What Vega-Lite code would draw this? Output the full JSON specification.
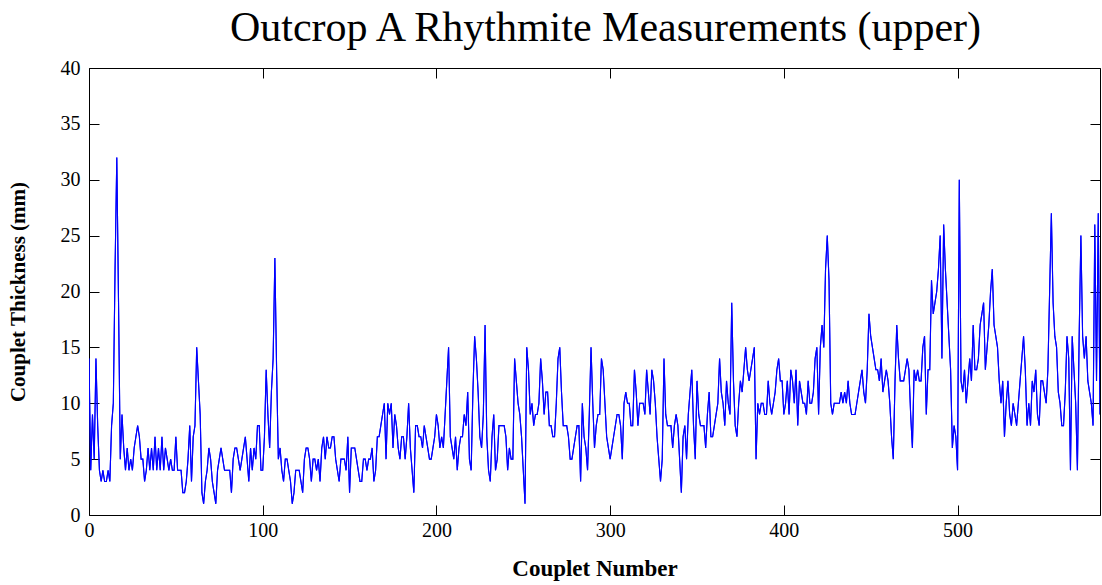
{
"$schema": "https://vega.github.io/schema/vega-lite/v6.json",
"width": 1011,
"height": 447,
"autosize": {"type": "none"},
"padding": {"left": 89, "top": 68, "right": 2, "bottom": 70},
"background": "white",
"config": {"view": {"stroke": "black", "strokeWidth": 1}, "font": "Liberation Serif"},
"title": {"text": "Outcrop A Rhythmite Measurements (upper)", "font": "Liberation Serif", "fontSize": 42, "fontWeight": "normal", "color": "black", "anchor": "middle", "offset": 8, "dx": 11},
"datasets": {"d": [
{"n":0,"t":14},{"n":1,"t":4},{"n":2,"t":9},{"n":3,"t":5},{"n":4,"t":14},{"n":5,"t":8},{"n":6,"t":4},{"n":7,"t":3},{"n":8,"t":4},{"n":9,"t":3},
{"n":10,"t":3},{"n":11,"t":4},{"n":12,"t":3},{"n":13,"t":8},{"n":14,"t":10},{"n":15,"t":22},{"n":16,"t":32},{"n":17,"t":19},
{"n":18,"t":5},{"n":19,"t":9},{"n":20,"t":6},{"n":21,"t":4},{"n":22,"t":6},{"n":23,"t":4},{"n":24,"t":5},{"n":25,"t":4},{"n":26,"t":6},{"n":27,"t":7},
{"n":28,"t":8},{"n":29,"t":7},{"n":30,"t":5},{"n":31,"t":5},{"n":32,"t":3},{"n":33,"t":4},{"n":34,"t":6},{"n":35,"t":4},{"n":36,"t":6},{"n":37,"t":4},
{"n":38,"t":7},{"n":39,"t":4},{"n":40,"t":6},{"n":41,"t":4},{"n":42,"t":7},{"n":43,"t":4},{"n":44,"t":6},{"n":45,"t":5},{"n":46,"t":4},{"n":47,"t":5},
{"n":48,"t":4},{"n":49,"t":4},
{"n":50,"t":7},{"n":51,"t":4},{"n":52,"t":4},{"n":53,"t":4},{"n":54,"t":2},{"n":55,"t":2},{"n":56,"t":3},{"n":57,"t":5},{"n":58,"t":8},{"n":59,"t":3},
{"n":60,"t":7},{"n":61,"t":8},{"n":62,"t":15},{"n":63,"t":12},{"n":64,"t":9},{"n":65,"t":2},{"n":66,"t":1},{"n":67,"t":3},{"n":68,"t":4},{"n":69,"t":6},
{"n":70,"t":5},{"n":71,"t":3},{"n":72,"t":2},{"n":73,"t":1},{"n":74,"t":4},{"n":75,"t":5},{"n":76,"t":6},{"n":77,"t":5},{"n":78,"t":4},{"n":79,"t":4},
{"n":80,"t":4},{"n":81,"t":4},{"n":82,"t":2},{"n":83,"t":5},{"n":84,"t":6},{"n":85,"t":6},{"n":86,"t":5},{"n":87,"t":4},{"n":88,"t":5},{"n":89,"t":6},
{"n":90,"t":7},{"n":91,"t":5},{"n":92,"t":3},{"n":93,"t":6},{"n":94,"t":4},{"n":95,"t":6},{"n":96,"t":5},{"n":97,"t":8},
{"n":98,"t":8},{"n":99,"t":4},{"n":100,"t":4},{"n":101,"t":7},{"n":102,"t":13},{"n":103,"t":9},{"n":104,"t":6},{"n":105,"t":11},{"n":106,"t":14},{"n":107,"t":23},
{"n":108,"t":13},{"n":109,"t":5},{"n":110,"t":6},{"n":111,"t":4},{"n":112,"t":3},{"n":113,"t":5},{"n":114,"t":5},{"n":115,"t":4},{"n":116,"t":3},{"n":117,"t":1},
{"n":118,"t":2},{"n":119,"t":4},{"n":120,"t":4},{"n":121,"t":4},{"n":122,"t":3},{"n":123,"t":2},{"n":124,"t":5},{"n":125,"t":6},{"n":126,"t":6},{"n":127,"t":5},
{"n":128,"t":3},{"n":129,"t":5},{"n":130,"t":5},{"n":131,"t":4},{"n":132,"t":5},{"n":133,"t":3},{"n":134,"t":6},{"n":135,"t":7},{"n":136,"t":5},{"n":137,"t":7},
{"n":138,"t":6},{"n":139,"t":6},{"n":140,"t":7},{"n":141,"t":7},{"n":142,"t":5},{"n":143,"t":4},{"n":144,"t":3},{"n":145,"t":5},
{"n":146,"t":5},{"n":147,"t":5},{"n":148,"t":4},{"n":149,"t":7},{"n":150,"t":2},{"n":151,"t":6},{"n":152,"t":6},{"n":153,"t":6},{"n":154,"t":5},{"n":155,"t":4},
{"n":156,"t":3},{"n":157,"t":3},{"n":158,"t":5},{"n":159,"t":5},{"n":160,"t":4},{"n":161,"t":5},{"n":162,"t":5},{"n":163,"t":6},{"n":164,"t":3},{"n":165,"t":4},
{"n":166,"t":7},{"n":167,"t":7},{"n":168,"t":8},{"n":169,"t":9},{"n":170,"t":10},{"n":171,"t":5},{"n":172,"t":10},{"n":173,"t":9},{"n":174,"t":10},{"n":175,"t":6},
{"n":176,"t":9},{"n":177,"t":8},{"n":178,"t":6},{"n":179,"t":5},{"n":180,"t":7},{"n":181,"t":7},{"n":182,"t":5},{"n":183,"t":7},{"n":184,"t":10},{"n":185,"t":6},
{"n":186,"t":4},{"n":187,"t":2},{"n":188,"t":8},{"n":189,"t":8},{"n":190,"t":7},{"n":191,"t":7},{"n":192,"t":6},{"n":193,"t":8},{"n":194,"t":7},{"n":195,"t":6},
{"n":196,"t":5},{"n":197,"t":5},{"n":198,"t":6},{"n":199,"t":7},{"n":200,"t":9},{"n":201,"t":8},{"n":202,"t":6},{"n":203,"t":7},{"n":204,"t":6},{"n":205,"t":9},
{"n":206,"t":12},{"n":207,"t":15},{"n":208,"t":7},{"n":209,"t":6},{"n":210,"t":5},{"n":211,"t":7},{"n":212,"t":4},{"n":213,"t":6},{"n":214,"t":7},{"n":215,"t":7},
{"n":216,"t":9},{"n":217,"t":8},{"n":218,"t":11},{"n":219,"t":5},{"n":220,"t":4},{"n":221,"t":11},{"n":222,"t":16},{"n":223,"t":14},{"n":224,"t":11},{"n":225,"t":7},
{"n":226,"t":6},{"n":227,"t":9},{"n":228,"t":17},{"n":229,"t":7},{"n":230,"t":4},{"n":231,"t":3},{"n":232,"t":7},{"n":233,"t":9},{"n":234,"t":4},{"n":235,"t":5},
{"n":236,"t":8},{"n":237,"t":8},{"n":238,"t":8},{"n":239,"t":8},{"n":240,"t":7},{"n":241,"t":4},{"n":242,"t":6},{"n":243,"t":5},{"n":244,"t":5},{"n":245,"t":14},
{"n":246,"t":12},
{"n":247,"t":10},{"n":248,"t":9},{"n":249,"t":7},{"n":250,"t":4},{"n":251,"t":1},{"n":252,"t":15},{"n":253,"t":13},{"n":254,"t":9},{"n":255,"t":10},{"n":256,"t":8},
{"n":257,"t":9},{"n":258,"t":9},{"n":259,"t":10},{"n":260,"t":14},{"n":261,"t":12},{"n":262,"t":9},{"n":263,"t":11},{"n":264,"t":11},{"n":265,"t":8},{"n":266,"t":8},
{"n":267,"t":7},{"n":268,"t":7},{"n":269,"t":10},{"n":270,"t":14},{"n":271,"t":15},{"n":272,"t":11},{"n":273,"t":8},{"n":274,"t":8},{"n":275,"t":8},{"n":276,"t":7},
{"n":277,"t":5},{"n":278,"t":5},{"n":279,"t":6},{"n":280,"t":7},{"n":281,"t":8},{"n":282,"t":8},{"n":283,"t":3},{"n":284,"t":10},{"n":285,"t":7},{"n":286,"t":6},
{"n":287,"t":4},{"n":288,"t":9},{"n":289,"t":15},{"n":290,"t":10},{"n":291,"t":6},{"n":292,"t":8},{"n":293,"t":9},{"n":294,"t":9},{"n":295,"t":14},
{"n":296,"t":13},{"n":297,"t":10},{"n":298,"t":7},{"n":299,"t":6},{"n":300,"t":5},{"n":301,"t":6},{"n":302,"t":7},{"n":303,"t":8},{"n":304,"t":9},{"n":305,"t":9},
{"n":306,"t":8},{"n":307,"t":5},{"n":308,"t":10},{"n":309,"t":11},{"n":310,"t":10},{"n":311,"t":10},{"n":312,"t":8},{"n":313,"t":8},{"n":314,"t":13},{"n":315,"t":11},
{"n":316,"t":8},{"n":317,"t":10},{"n":318,"t":10},{"n":319,"t":10},{"n":320,"t":9},{"n":321,"t":13},{"n":322,"t":11},{"n":323,"t":9},{"n":324,"t":13},{"n":325,"t":12},
{"n":326,"t":10},{"n":327,"t":7},{"n":328,"t":5},{"n":329,"t":3},{"n":330,"t":5},{"n":331,"t":14},{"n":332,"t":9},{"n":333,"t":8},{"n":334,"t":8},{"n":335,"t":8},
{"n":336,"t":6},{"n":337,"t":8},{"n":338,"t":9},{"n":339,"t":8},{"n":340,"t":5},{"n":341,"t":2},{"n":342,"t":7},{"n":343,"t":8},{"n":344,"t":5},
{"n":345,"t":9},{"n":346,"t":11},{"n":347,"t":13},{"n":348,"t":8},{"n":349,"t":5},{"n":350,"t":12},{"n":351,"t":9},{"n":352,"t":8},{"n":353,"t":8},{"n":354,"t":8},
{"n":355,"t":6},{"n":356,"t":9},{"n":357,"t":11},{"n":358,"t":7},{"n":359,"t":7},{"n":360,"t":8},{"n":361,"t":9},{"n":362,"t":10},{"n":363,"t":14},{"n":364,"t":11},
{"n":365,"t":10},{"n":366,"t":8},{"n":367,"t":12},{"n":368,"t":10},{"n":369,"t":9},{"n":370,"t":19},{"n":371,"t":12},{"n":372,"t":8},{"n":373,"t":7},{"n":374,"t":10},
{"n":375,"t":12},{"n":376,"t":11},{"n":377,"t":13},{"n":378,"t":15},{"n":379,"t":13},{"n":380,"t":12},{"n":381,"t":13},{"n":382,"t":14},{"n":383,"t":15},{"n":384,"t":5},
{"n":385,"t":10},{"n":386,"t":9},{"n":387,"t":10},{"n":388,"t":10},{"n":389,"t":9},{"n":390,"t":9},{"n":391,"t":12},{"n":392,"t":10},{"n":393,"t":9},{"n":394,"t":10},
{"n":395,"t":11},{"n":396,"t":13},{"n":397,"t":14},{"n":398,"t":12},{"n":399,"t":12},{"n":400,"t":9},{"n":401,"t":10},{"n":402,"t":12},{"n":403,"t":9},{"n":404,"t":13},
{"n":405,"t":12},{"n":406,"t":10},{"n":407,"t":13},{"n":408,"t":8},{"n":409,"t":12},{"n":410,"t":11},{"n":411,"t":10},{"n":412,"t":10},{"n":413,"t":9},{"n":414,"t":12},
{"n":415,"t":10},{"n":416,"t":10},{"n":417,"t":11},{"n":418,"t":14},{"n":419,"t":15},{"n":420,"t":9},{"n":421,"t":15},{"n":422,"t":17},{"n":423,"t":15},{"n":424,"t":22},
{"n":425,"t":25},{"n":426,"t":21},{"n":427,"t":10},{"n":428,"t":9},{"n":429,"t":10},{"n":430,"t":10},{"n":431,"t":10},{"n":432,"t":10},{"n":433,"t":11},{"n":434,"t":10},
{"n":435,"t":11},{"n":436,"t":10},{"n":437,"t":12},{"n":438,"t":10},{"n":439,"t":9},{"n":440,"t":9},{"n":441,"t":9},{"n":442,"t":10},{"n":443,"t":11},
{"n":444,"t":12},{"n":445,"t":13},{"n":446,"t":11},{"n":447,"t":10},{"n":448,"t":13},{"n":449,"t":18},{"n":450,"t":16},{"n":451,"t":15},{"n":452,"t":14},{"n":453,"t":13},
{"n":454,"t":13},{"n":455,"t":12},{"n":456,"t":14},{"n":457,"t":11},{"n":458,"t":12},{"n":459,"t":13},{"n":460,"t":12},{"n":461,"t":10},{"n":462,"t":7},{"n":463,"t":5},
{"n":464,"t":12},{"n":465,"t":17},{"n":466,"t":14},{"n":467,"t":12},{"n":468,"t":12},{"n":469,"t":12},{"n":470,"t":13},{"n":471,"t":14},{"n":472,"t":13},{"n":473,"t":9},
{"n":474,"t":6},{"n":475,"t":13},{"n":476,"t":12},{"n":477,"t":13},{"n":478,"t":12},{"n":479,"t":12},{"n":480,"t":15},{"n":481,"t":16},{"n":482,"t":9},{"n":483,"t":13},
{"n":484,"t":13},{"n":485,"t":21},{"n":486,"t":18},{"n":487,"t":19},{"n":488,"t":20},{"n":489,"t":22},{"n":490,"t":25},{"n":491,"t":14},{"n":492,"t":26},{"n":493,"t":22},
{"n":494,"t":19},{"n":495,"t":16},{"n":496,"t":13},{"n":497,"t":6},{"n":498,"t":8},{"n":499,"t":7},{"n":500,"t":4},{"n":501,"t":30},{"n":502,"t":12},{"n":503,"t":11},
{"n":504,"t":13},{"n":505,"t":10},{"n":506,"t":12},{"n":507,"t":14},{"n":508,"t":12},{"n":509,"t":17},{"n":510,"t":13},{"n":511,"t":13},{"n":512,"t":14},{"n":513,"t":17},
{"n":514,"t":18},{"n":515,"t":19},{"n":516,"t":13},{"n":517,"t":15},{"n":518,"t":17},{"n":519,"t":20},{"n":520,"t":22},{"n":521,"t":17},{"n":522,"t":16},{"n":523,"t":15},
{"n":524,"t":12},{"n":525,"t":10},{"n":526,"t":12},{"n":527,"t":7},{"n":528,"t":10},{"n":529,"t":12},{"n":530,"t":9},{"n":531,"t":8},{"n":532,"t":10},{"n":533,"t":9},
{"n":534,"t":8},{"n":535,"t":10},{"n":536,"t":12},{"n":537,"t":14},{"n":538,"t":16},{"n":539,"t":13},{"n":540,"t":8},{"n":541,"t":10},{"n":542,"t":8},{"n":543,"t":12},
{"n":544,"t":11},{"n":545,"t":13},{"n":546,"t":9},{"n":547,"t":8},{"n":548,"t":12},{"n":549,"t":12},{"n":550,"t":11},{"n":551,"t":10},{"n":552,"t":13},{"n":553,"t":20},
{"n":554,"t":27},{"n":555,"t":19},{"n":556,"t":16},{"n":557,"t":15},{"n":558,"t":11},{"n":559,"t":10},{"n":560,"t":8},{"n":561,"t":8},{"n":562,"t":11},{"n":563,"t":16},
{"n":564,"t":14},{"n":565,"t":4},{"n":566,"t":16},{"n":567,"t":13},{"n":568,"t":10},{"n":569,"t":4},{"n":570,"t":16},{"n":571,"t":25},{"n":572,"t":16},{"n":573,"t":14},
{"n":574,"t":16},{"n":575,"t":12},{"n":576,"t":11},{"n":577,"t":10},{"n":578,"t":8},{"n":579,"t":26},{"n":580,"t":12},{"n":581,"t":27},{"n":582,"t":9}
]},
"data": {"name": "d"},
"layer": [
{"mark": {"type": "line", "color": "#0000ff", "strokeWidth": 1.1, "clip": true},
 "encoding": {
  "x": {"field": "n", "type": "quantitative", "scale": {"domain": [0, 582], "nice": false, "zero": false},
        "axis": {"orient": "bottom", "title": "Couplet Number", "values": [0,100,200,300,400,500], "grid": false, "domain": false, "tickSize": -10, "tickColor": "black", "labelFlush": false, "labelPadding": 15, "labelFont": "Liberation Serif", "labelFontSize": 20, "labelColor": "black", "titleFont": "Liberation Serif", "titleFontSize": 23, "titleFontWeight": "bold", "titleColor": "black", "titlePadding": 17}},
  "y": {"field": "t", "type": "quantitative", "scale": {"domain": [0, 40], "nice": false, "zero": true},
        "axis": {"orient": "left", "title": "Couplet Thickness (mm)", "values": [0,5,10,15,20,25,30,35,40], "grid": false, "domain": false, "tickSize": -10, "tickColor": "black", "labelFlush": false, "labelPadding": 19, "labelFont": "Liberation Serif", "labelFontSize": 20, "labelColor": "black", "titleFont": "Liberation Serif", "titleFontSize": 21, "titleFontWeight": "bold", "titleColor": "black", "titlePadding": 32}}
 }},
{"mark": {"type": "line", "color": "#0000ff", "strokeWidth": 1.1, "clip": true},
 "encoding": {
  "x": {"field": "n", "type": "quantitative", "axis": {"orient": "top", "title": null, "labels": false, "values": [0,100,200,300,400,500], "grid": false, "domain": false, "tickSize": -10, "tickColor": "black"}},
  "y": {"field": "t", "type": "quantitative", "axis": {"orient": "right", "title": null, "labels": false, "values": [0,5,10,15,20,25,30,35,40], "grid": false, "domain": false, "tickSize": -10, "tickColor": "black"}}
 }}
],
"resolve": {"axis": {"x": "independent", "y": "independent"}}
}
